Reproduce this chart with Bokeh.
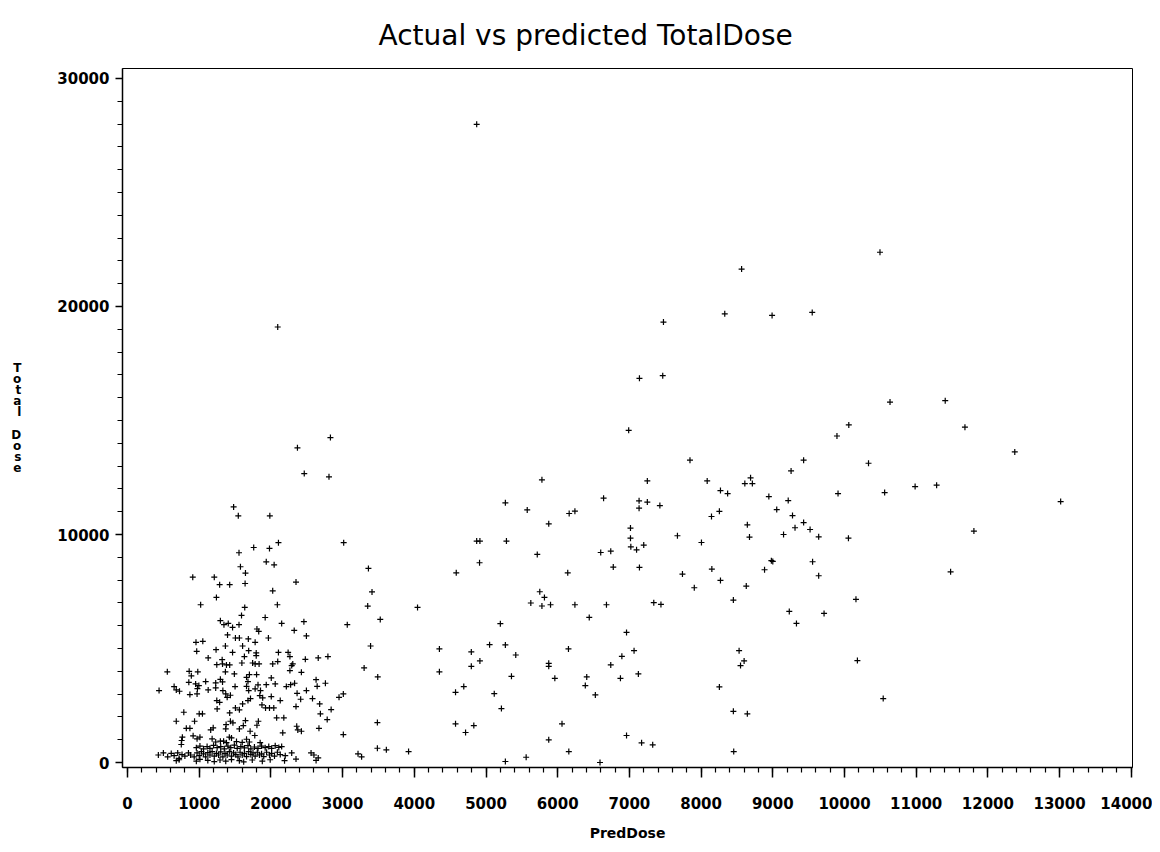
from bokeh.plotting import figure
from bokeh.models import Range1d, FixedTicker, Title, ColumnDataSource
from bokeh.embed import file_html
from bokeh.resources import INLINE

# ---- data ----
pred_dose_low = [
    2830, 2370, 2465, 2810, 1480, 1545, 1985, 3015, 2105, 1760, 1980, 1555, 1935, 2045,
    1575, 3360, 1645, 910, 1210, 1285, 1425, 1640, 2350, 3410, 2025, 1240, 1020, 1635,
    2090, 3350, 2095, 4870,
    1590, 1920, 1295, 1345, 1405, 1465, 1555, 2150, 2460, 3065, 1805, 1830, 2325, 1395,
    1505, 1560, 1685, 1965, 2495, 955, 1050, 1780, 1605, 965, 1235, 1365, 1465, 1690,
    1795, 1795, 2105, 2240, 1125, 1630, 1595, 1320, 2660, 2795, 2265, 2480, 1245, 1325,
    1380, 1425, 1745, 1780, 1835, 2025, 2095, 2305, 555, 860, 980, 890, 1365, 1490,
    1700, 1660, 1800, 1295, 1325, 2005, 2265, 2290, 2425, 2630, 855, 950, 995, 1090,
    1230, 1500, 1680, 1660, 1820, 1935, 2060, 2215, 2275, 2330, 2760, 2645, 440, 650,
    680, 725, 975, 1125, 1230, 1330, 1370, 1690, 1780, 1855, 1435, 1390, 870, 970,
    1845, 1885, 2005, 2365, 2415, 2495, 2580, 2950, 3010, 1245, 1285, 1680, 1715, 1605,
    2130, 1875, 1925, 1980, 2040, 2350, 2680, 2690, 2840, 1250, 1505, 1560, 785, 1000,
    1045, 1425, 1645, 1825, 2080, 2180, 2785, 680, 935, 1435, 1470, 1375, 1615, 1805,
    820, 870, 1160, 1195, 1370, 1560, 1710, 2165, 2360, 2375, 2425, 2670, 3010, 765,
    755, 750, 915, 970, 1010, 1180, 1295, 1340, 1420, 1450, 1660, 1775,
]
total_dose_low = [
    14250, 13800, 12670, 12530, 11210, 10820, 10820, 9640, 9640, 9430, 9390, 9200, 8800, 8670,
    8585, 8510, 8310, 8130, 8130, 7800, 7800, 7850, 7915, 7480, 7530, 7240, 6920, 6800,
    6920, 6860, 19100, 27990,
    6450, 6360, 6220, 6045, 6100, 5925, 6045, 6100, 6175, 6045, 5855, 5750, 5795, 5595,
    5460, 5460, 5420, 5460, 5550, 5270, 5315, 5270, 5110, 4875, 4950, 5110, 4830, 4905,
    4805, 4685, 4830, 4830, 4585, 4645, 4365, 4510, 4585, 4645, 4645, 4525, 4290, 4325,
    4280, 4280, 4365, 4325, 4325, 4325, 4425, 4325, 3975, 4000, 3975, 3800, 3975, 3885,
    3855, 3735, 3855, 3650, 3535, 3710, 4030, 4250, 3955, 3635, 3515, 3445, 3375, 3550,
    3490, 3330, 3550, 3340, 3405, 3415, 3445, 3330, 3415, 3475, 3475, 3340, 3155, 3330,
    3185, 3125, 3240, 3185, 3270, 3155, 3010, 3155, 3230, 3155, 2950, 2860, 2980, 3010,
    2935, 2835, 2890, 3035, 2775, 3155, 2805, 2860, 3010, 2715, 2640, 2715, 2805, 2570,
    2715, 2525, 2395, 2395, 2395, 2455, 2570, 2135, 2320, 2350, 2395, 2310, 2205, 2135,
    2135, 2175, 1840, 1810, 1960, 1960, 1885, 1810, 1810, 1810, 1740, 1665, 1620, 1635,
    1500, 1500, 1430, 1520, 1475, 1475, 1370, 1300, 1590, 1430, 1370, 1500, 1225, 1110,
    965, 790, 1170, 1040, 1110, 1040, 935, 935, 1110, 1080, 1020, 1185,
]

pred_dose_band = [
    430, 500, 560, 610, 650, 700, 720, 760, 800, 850, 880, 930, 970, 1000, 1030, 1060,
    1090, 1120, 1150, 1180, 1210, 1240, 1270, 1300, 1330, 1360, 1390, 1420, 1450, 1480,
    1510, 1540, 1570, 1600, 1630, 1660, 1690, 1720, 1750, 1780, 1810, 1840, 1870, 1900,
    1940, 1980, 2010, 2050, 2090, 2130, 2200, 2290, 2350, 2560, 2600, 2660,
    960, 1010, 1060, 1110, 1150, 1200, 1250, 1300, 1350, 1400, 1440, 1490, 1530, 1580,
    1630, 1680, 1720, 1770, 1820, 1870, 1920, 1970, 2010, 2060, 2110, 2150,
    680, 720, 960, 1010, 1120, 1210, 1290, 1370, 1450, 1560, 1620, 1740, 1880, 1990,
    2190, 2630,
    1230, 1380, 1520, 1600, 1700, 1850,
]
total_dose_band = [
    330, 420, 250, 400, 300, 420, 180, 350, 280, 420, 330, 250, 420, 300, 480, 380,
    250, 430, 330, 480, 280, 400, 330, 470, 250, 400, 330, 480, 280, 420,
    350, 250, 450, 330, 400, 260, 480, 350, 420, 280, 450, 330, 380, 260,
    450, 330, 400, 280, 450, 350, 300, 420, 150, 420, 330, 200,
    650, 720, 600, 700, 620, 750, 650, 700, 600, 720, 650, 760, 620, 700,
    640, 740, 600, 680, 620, 720, 650, 700, 620, 740, 660, 700,
    80, 120, 60, 140, 90, 40, 110, 60, 130, 80, 30, 110, 60, 120,
    80, 90,
    900, 870, 920, 880, 900, 870,
]

pred_dose_mid = [
    5780, 5270, 5575, 6160, 6240, 6640, 5875, 4870, 4915, 5285, 5715, 6600, 6740, 6775,
    4910, 4585, 6140, 5750, 5815, 5625, 5780, 5900, 6240, 6680, 4045, 3525, 6440, 5200,
    6960, 3390, 4350, 5050, 5270, 4795, 5415, 6150, 6895, 4915, 4795, 5875, 5875, 6740,
    3300, 4350, 3490, 5355, 5960, 6405, 6385, 6875, 4690, 4575, 5115, 6525, 5215, 3485,
    4575, 4830, 6060, 4715, 5875, 6960, 3215, 3265, 3485, 3610, 3920, 5270, 5560, 6155,
    6590,
]
total_dose_mid = [
    12400, 11390, 11080, 10920, 11025, 11595, 10470, 9710, 9710, 9710, 9125, 9210, 9270, 8570,
    8760, 8320, 8320, 7490, 7240, 6995, 6865, 6920, 6920, 6920, 6800, 6275, 6365, 6090,
    5705, 5110, 4980, 5170, 5155, 4850, 4715, 4980, 4655, 4455, 4220, 4350, 4220, 4280,
    4150, 3975, 3755, 3780, 3690, 3755, 3375, 3690, 3330, 3080, 3020, 2965, 2365, 1750,
    1695, 1620, 1695, 1315, 995, 1185, 380, 250, 625, 555, 480, 45, 230, 480,
    0,
]

pred_dose_high = [
    10495, 8565, 8330, 8990, 9550, 7475, 7140, 7465, 6990, 10635, 10060, 9895, 7845, 9430,
    10335, 9255, 7250, 8085, 8690, 8610, 8715, 8270, 8370, 8945, 9215, 9910, 10560, 7135,
    7250, 7135, 7425, 9055, 8145, 8255, 9275, 8645, 9430, 9310, 9520, 7015, 7015, 7020,
    7100, 7200, 7670, 8005, 8675, 9150, 9640, 10055, 7140, 7740, 8150, 8270, 7905, 8630,
    8980, 9000, 8885, 9555, 9640, 8450, 7340, 7440, 9230, 9330, 9715, 10160, 7065, 7125,
    8530, 8600, 8550, 10180, 8255, 10540, 8450, 8645, 7170, 7325, 8455,
    11405, 11680, 12375, 10985, 11285, 13015, 11805, 11480,
]
total_dose_high = [
    22380, 21640, 19680, 19610, 19740, 19315, 16850, 16965, 14570, 15810, 14805, 14320, 13260, 13260,
    13125, 12790, 12350, 12350, 12485, 12235, 12235, 11925, 11795, 11665, 11490, 11795, 11840, 11475,
    11420, 11155, 11270, 11095, 10790, 11015, 10830, 10425, 10525, 10295, 10220, 10280, 9840, 9460,
    9330, 9535, 9945, 9650, 9885, 10000, 9900, 9840, 8555, 8265, 8485, 7985, 7665, 7740,
    8850, 8820, 8455, 8805, 8190, 7125, 7010, 6935, 6625, 6100, 6540, 7155, 4905, 3885,
    4905, 4455, 4250, 4470, 3315, 2805, 2245, 2135, 865, 775, 480,
    15870, 14705, 13620, 12100, 12165, 11445, 10150, 8365,
]

x_ticks = list(range(0, 14001, 1000))
x_minor = list(range(0, 14001, 200))
y_ticks = [0, 10000, 20000, 30000]
y_minor = list(range(0, 30001, 1000))

title_text = "Actual  vs  predicted  TotalDose"
x_label = "PredDose"
y_label = "Total Dose"

pred = pred_dose_low + pred_dose_band + pred_dose_mid + pred_dose_high
total = total_dose_low + total_dose_band + total_dose_mid + total_dose_high
src = ColumnDataSource(dict(x=pred, y=total))

p = figure(width=1152, height=844, output_backend="svg", toolbar_location=None,
           x_range=Range1d(-70, 14017), y_range=Range1d(-219, 30438),
           min_border_left=122, min_border_right=20, min_border_top=67,
           min_border_bottom=77, title=None)
p.background_fill_color = "white"
p.border_fill_color = "white"
p.outline_line_color = "black"
p.outline_line_width = 1
p.grid.visible = False

p.add_layout(Title(text=title_text, align="left", text_font="DejaVu Sans",
                   text_font_size="28px", text_font_style="normal",
                   text_color="black", standoff=33, offset=256), "above")

p.scatter("x", "y", source=src, marker="cross", size=6, line_width=1.2,
          line_color="black")

for ax in (p.xaxis[0], p.yaxis[0]):
    ax.axis_line_color = "black"
    ax.axis_line_width = 1.5
    ax.major_tick_line_color = "black"
    ax.minor_tick_line_color = "black"
    ax.major_tick_line_width = 1.5
    ax.minor_tick_line_width = 1.2
    ax.major_tick_in = 0
    ax.minor_tick_in = 0
    ax.major_label_text_font = "DejaVu Sans"
    ax.major_label_text_font_style = "bold"
    ax.major_label_text_font_size = "15px"
    ax.major_label_text_color = "black"
    ax.axis_label_text_font = "DejaVu Sans"
    ax.axis_label_text_font_style = "bold"
    ax.axis_label_text_color = "black"

p.xaxis.ticker = FixedTicker(ticks=x_ticks, minor_ticks=x_minor)
p.yaxis.ticker = FixedTicker(ticks=y_ticks, minor_ticks=y_minor)
p.xaxis.major_tick_out = 10
p.xaxis.minor_tick_out = 5
p.yaxis.major_tick_out = 7
p.yaxis.minor_tick_out = 5
p.xaxis.major_label_standoff = 19
p.yaxis.major_label_standoff = 6

p.xaxis.axis_label = x_label
p.xaxis.axis_label_text_font_size = "14px"
p.xaxis.axis_label_standoff = 13

p.yaxis.axis_label = "\n".join(list(y_label))
p.yaxis.axis_label_orientation = "horizontal"
p.yaxis.axis_label_text_font_size = "12px"
p.yaxis.axis_label_text_line_height = 0.8
p.yaxis.axis_label_standoff = 33

open("out.html", "w").write(file_html(p, INLINE))
